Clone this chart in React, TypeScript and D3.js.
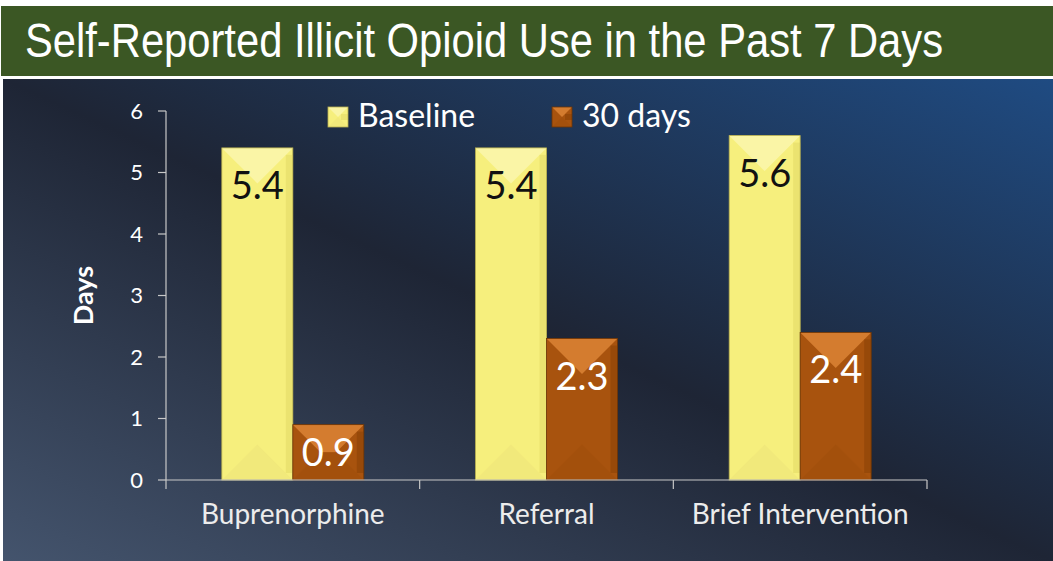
import React from "react";
import * as d3 from "d3";

const categories = ["Buprenorphine", "Referral", "Brief Intervention"];
const seriesNames = ["Baseline", "30 days"];
const baseline = [5.4, 5.4, 5.6];
const days30 = [0.9, 2.3, 2.4];
const yTicks = [0, 1, 2, 3, 4, 5, 6];

const W = 1053;
const H = 561;
const plot = { left: 166, right: 927, top: 111, bottom: 480 };

const palettes = [
  { base: "#f6ef7d", top: "#faf5a6", side: "#e4da68", bottom: "#eee57a", edge: "#b9b050", text: "#111" },
  { base: "#a8530e", top: "#d47c2f", side: "#8c4306", bottom: "#a04f0c", edge: "#6d3505", text: "#fff" },
];

function Bar({ x, y, w, h, p }: { x: number; y: number; w: number; h: number; p: typeof palettes[0] }) {
  const b = Math.min(w / 2, h / 2);
  const s = 7;
  return (
    <g>
      <rect x={x} y={y} width={w} height={h} fill={p.base} />
      <polygon points={`${x},${y} ${x + w},${y} ${x + w - b},${y + b} ${x + b},${y + b}`} fill={p.top} />
      <polygon points={`${x},${y + h} ${x + w},${y + h} ${x + w - b},${y + h - b} ${x + b},${y + h - b}`} fill={p.bottom} opacity={0.6} />
      <rect x={x + w - s} y={y + s} width={s} height={Math.max(0, h - 2 * s)} fill={p.side} opacity={0.6} />
      <rect x={x} y={y} width={w} height={h} fill="none" stroke={p.edge} strokeWidth={0.8} />
    </g>
  );
}

export default function App() {
  const x0 = d3.scaleBand<string>().domain(categories).range([plot.left, plot.right]).paddingInner(0).paddingOuter(0);
  const x1 = d3.scaleBand<string>().domain(seriesNames).range([0, 142]);
  const y = d3.scaleLinear().domain([0, 6]).range([plot.bottom, plot.top]);
  const series = [baseline, days30];
  const groupOffset = (x0.bandwidth() - 142) / 2;

  return (
    <svg width={W} height={H} style={{ position: "absolute", left: 0, top: 0, background: "#fff" }}>
      <defs>
        <linearGradient id="bg" x1="0" y1="1" x2="1" y2="0">
          <stop offset="0%" stopColor="#44546d" />
          <stop offset="50%" stopColor="#1e2535" />
          <stop offset="100%" stopColor="#1f4b82" />
        </linearGradient>
      </defs>
      <rect x={1} y={6} width={W - 1} height={70} fill="#3b5724" />
      <text
        x={25}
        y={57}
        fill="#fff"
        fontFamily="Liberation Sans, Arial, sans-serif"
        fontSize={48}
        textLength={918}
        lengthAdjust="spacingAndGlyphs"
      >
        Self-Reported Illicit Opioid Use in the Past 7 Days
      </text>
      <rect x={3} y={79} width={W - 3} height={H - 79} fill="url(#bg)" />

      {/* y axis */}
      <line x1={plot.left} x2={plot.left} y1={y(6)} y2={y(0)} stroke="#c8c8c8" strokeWidth={1.2} />
      {yTicks.map((t) => (
        <g key={t}>
          <line x1={plot.left - 8} x2={plot.left} y1={y(t)} y2={y(t)} stroke="#c8c8c8" strokeWidth={1.2} />
          <text x={143} y={y(t)} dy="0.35em" textAnchor="end" fill="#fff" fontFamily="Lato, sans-serif" fontSize={22}>
            {t}
          </text>
        </g>
      ))}
      <text
        transform={`translate(93,${(y(0) + y(6)) / 2}) rotate(-90)`}
        textAnchor="middle"
        fill="#fff"
        fontFamily="Lato, sans-serif"
        fontWeight="bold"
        fontSize={27}
      >
        Days
      </text>

      {/* bars */}
      {categories.map((c, i) => (
        <g key={c}>
          {series.map((vals, j) => {
            const v = vals[i];
            const bx = (x0(c) as number) + groupOffset + (x1(seriesNames[j]) as number);
            const by = y(v);
            const bh = y(0) - by;
            const bw = x1.bandwidth();
            const ly = Math.min(by + 51, (by + y(0)) / 2 + 14);
            return (
              <g key={j}>
                <Bar x={bx} y={by} w={bw} h={bh} p={palettes[j]} />
                <text
                  x={bx + bw / 2}
                  y={ly}
                  textAnchor="middle"
                  fill={palettes[j].text}
                  fontFamily="Lato, sans-serif"
                  fontSize={38}
                >
                  {v.toFixed(1)}
                </text>
              </g>
            );
          })}
        </g>
      ))}

      {/* x axis */}
      <line x1={plot.left} x2={plot.right} y1={y(0)} y2={y(0)} stroke="#c8c8c8" strokeWidth={1.2} />
      {[...categories.map((c) => x0(c) as number), plot.right].map((t, k) => (
        <line key={k} x1={t} x2={t} y1={y(0)} y2={y(0) + 9} stroke="#c8c8c8" strokeWidth={1.2} />
      ))}
      {categories.map((c) => (
        <text
          key={c}
          x={(x0(c) as number) + x0.bandwidth() / 2}
          y={524}
          textAnchor="middle"
          fill="#ececec"
          fontFamily="Lato, sans-serif"
          fontSize={28}
        >
          {c}
        </text>
      ))}

      {/* legend */}
      {seriesNames.map((n, j) => {
        const lx = [328, 552][j];
        return (
          <g key={n}>
            <Bar x={lx} y={107} w={20} h={20} p={palettes[j]} />
            <text x={lx + 30} y={127} fill="#fff" fontFamily="Lato, sans-serif" fontSize={32}>
              {n}
            </text>
          </g>
        );
      })}
    </svg>
  );
}
